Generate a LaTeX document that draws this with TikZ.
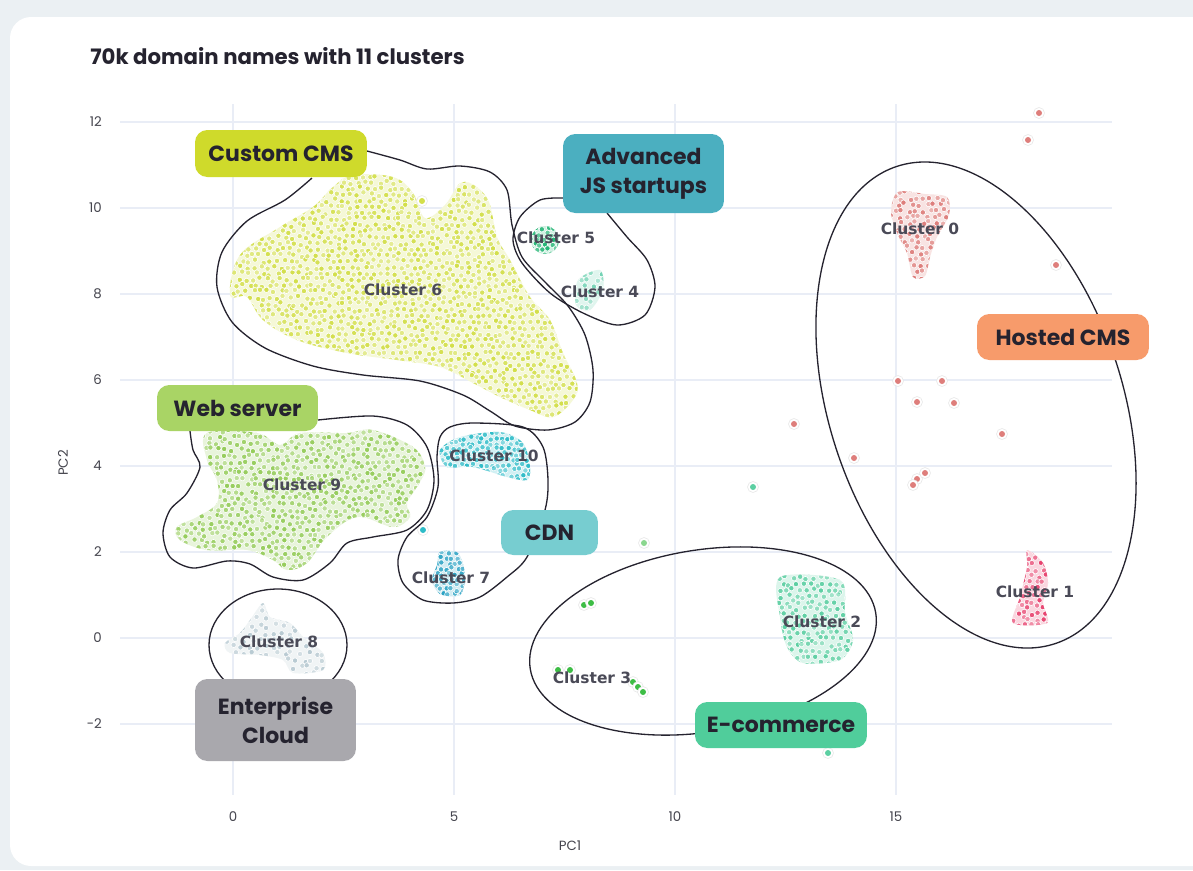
\documentclass[tikz,border=0pt]{standalone}
\usepackage{fontspec}
\newfontfamily\tagfont{Poppins}
\newfontfamily\titlefont{Poppins}
\newfontfamily\clfont{DejaVu Sans}
\newfontfamily\tickfont{Poppins}

\definecolor{bgout}{HTML}{EBF0F3}
\definecolor{gridc}{HTML}{E9EDF6}
\definecolor{ink}{HTML}{25232F}
\definecolor{lblc}{HTML}{4A4A57}
\definecolor{tickc}{HTML}{45454E}
% group colours
\definecolor{cms}{HTML}{CFDA2B}
\definecolor{js}{HTML}{4BAFC0}
\definecolor{hosted}{HTML}{F79B6B}
\definecolor{web}{HTML}{A9D465}
\definecolor{cdn}{HTML}{77CDD0}
\definecolor{ent}{HTML}{A9A8AD}
\definecolor{ecom}{HTML}{50CD9B}
% cluster colours
\definecolor{c0}{HTML}{DE7E7B}
\definecolor{c1}{HTML}{E8436F}
\definecolor{c2}{HTML}{5CCFA2}
\definecolor{c3}{HTML}{3DBD45}
\definecolor{c4}{HTML}{72D3B4}
\definecolor{c5}{HTML}{22B574}
\definecolor{c6}{HTML}{D3DF4A}
\definecolor{c7}{HTML}{2AA2C4}
\definecolor{c8}{HTML}{B9CBD3}
\definecolor{c9}{HTML}{96CD5B}
\definecolor{c10}{HTML}{2DBCC8}

% jittered dots in a box: colour, x0, y0, x1, y1, step
\newcommand{\dotfield}[6]{%
  \pgfmathtruncatemacro{\nx}{(#4-#2)/#6}%
  \pgfmathtruncatemacro{\ny}{(#5-#3)/(0.87*#6)}%
  \foreach \i in {0,...,\nx}{%
    \foreach \j in {0,...,\ny}{%
      \pgfmathsetmacro{\px}{#2+(\i+0.5*mod(\j,2))*#6+0.3*#6*rand}%
      \pgfmathsetmacro{\py}{#3+\j*#6*0.87+0.3*#6*rand}%
      \pgfmathsetmacro{\op}{0.45+0.55*rnd}%
      \filldraw[draw=white,line width=0.35pt,fill=#1,fill opacity=\op] (\px,\py) circle (2.7);
    }}}
% single point with halo
\newcommand{\outpt}[3]{%
  \fill[white] (#2,#3) circle (5.5);
  \draw[gray!20,line width=0.3pt] (#2,#3) circle (5.5);
  \fill[#1] (#2,#3) circle (3);}

\tikzset{
  gridln/.style={draw=gridc,line width=1.2pt},
  hull/.style={draw=ink,line width=0.75pt},
  tag/.style={fill=#1,rounded corners=7pt,inner sep=0pt,align=center,text=ink,
    font=\tagfont\bfseries\fontsize{12.5}{16.5}\selectfont},
  clabel/.style={font=\clfont\bfseries\fontsize{8.8}{10}\selectfont,text=lblc,inner sep=1pt},
  ticklbl/.style={font=\tickfont\fontsize{7.6}{9}\selectfont,text=tickc},
}

% cluster shapes
\def\shapesix{plot[smooth cycle,tension=0.6] coordinates {(333,187) (353,175) (393,177) (413,193) (425,218) (445,205) (463,182) (487,198) (497,237) (510,260) (530,297) (550,320) (563,353) (577,383) (573,400) (553,417) (530,410) (500,397) (473,383) (440,367) (397,360) (347,353) (297,340) (263,320) (247,297) (230,295) (240,255) (280,227) (313,207)}}
\def\shapenine{plot[smooth cycle,tension=0.6] coordinates {(207,433) (257,433) (280,445) (300,433) (347,433) (373,430) (413,447) (425,467) (420,482) (407,503) (410,517) (393,527) (357,517) (327,537) (307,563) (287,570) (273,560) (247,550) (207,550) (180,540) (177,527) (197,517) (217,503) (217,480) (207,460)}}
\def\shapeten{plot[smooth cycle] coordinates {(440,450) (460,437) (500,432) (523,443) (530,467) (527,480) (507,477) (473,467) (447,467)}}
\def\shapezero{plot[smooth cycle] coordinates {(898,192) (925,194) (947,197) (949,215) (937,237) (930,257) (925,276) (913,277) (907,253) (898,235) (891,212)}}
\def\shapeone{plot[smooth cycle] coordinates {(1027,550) (1043,563) (1048,583) (1043,603) (1047,623) (1013,623) (1020,597) (1027,567)}}
\def\shapetwo{plot[smooth cycle] coordinates {(780,577) (840,580) (845,613) (853,640) (840,660) (803,663) (787,647) (780,617)}}
\def\shapeeight{plot[smooth cycle] coordinates {(263,603) (270,617) (290,623) (303,637) (323,653) (323,670) (293,673) (283,660) (260,655) (230,653) (225,643) (240,633) (250,620)}}
\def\shapeseven{plot[smooth cycle] coordinates {(440,552) (458,553) (465,575) (460,595) (440,594) (432,580) (437,565)}}
\def\shapefive{(545,240) circle (14)}
\def\shapefour{plot[smooth cycle] coordinates {(578,280) (600,270) (603,290) (590,310) (576,305)}}

\begin{document}
\begin{tikzpicture}[x=0.02cm,y=-0.02cm]
\pgfmathsetseed{7}
\useasboundingbox (0,0) rectangle (1193,870);
\clip (0,0) rectangle (1193,870);
%card
\fill[bgout] (0,0) rectangle (1193,870);
\fill[white,rounded corners=12pt] (10,17) rectangle (1230,866);

%grid
\foreach \gx in {233,454,675,896} {\draw[gridln] (\gx,104) -- (\gx,795);}
\foreach \gy in {122,208,294,380,466,552,638,724} {\draw[gridln] (120,\gy) -- (1112,\gy);}

%axis labels
\foreach \v/\gy in {12/122,10/208,8/294,6/380,4/466,2/552,0/638,-2/724}
  {\node[ticklbl,anchor=east] (ty\gy) at (108,\gy) {\v};}
\foreach \v/\gx in {0/233,5/454,10/675,15/896}
  {\node[ticklbl] (tx\v) at (\gx,817) {\v};}
\node[ticklbl] (pcone) at (570,846) {PC1};
\node[ticklbl,rotate=90] (pctwo) at (63,463) {PC2};

%clusters
\foreach \shp/\col/\xa/\ya/\xb/\yb/\st in {\shapesix/c6/225/170/585/425/7,\shapenine/c9/170/425/430/575/7,\shapeten/c10/435/428/535/485/6,\shapezero/c0/888/186/952/280/7,\shapeone/c1/1008/546/1052/628/7,\shapetwo/c2/775/572/858/668/7,\shapeeight/c8/220/598/328/678/8,\shapeseven/c7/428/548/468/600/6,\shapefive/c5/528/224/562/256/6,\shapefour/c4/572/266/608/314/8}{%
  \fill[\col!22] \shp;
  \begin{scope}
    \clip \shp;
    \dotfield{\col}{\xa}{\ya}{\xb}{\yb}{\st}
  \end{scope}
}

%outliers
\foreach \x/\y in {1039/113,1028/140,1056/265,898/381,942/381,917/402,954/403,1002/434,794/424,854/458,917/479,925/473,913/485}
  {\outpt{c0}{\x}{\y}}
\foreach \x/\y in {584/605,591/603,558/670,570/670,633/682,638/687,643/692}
  {\outpt{c3}{\x}{\y}}
\outpt{c2}{753}{487}
\outpt{c3!60}{644}{543}
\outpt{c2}{828}{753}
\outpt{c10}{423}{530}
\outpt{c6}{422}{201}

%hulls
\draw[hull] plot[smooth] coordinates {(367,151) (400,160) (427,169) (460,166) (490,172) (507,190) (512,225) (522,257) (545,282) (568,306) (585,335) (593,370) (590,402) (575,422) (548,430) (515,426) (490,411) (463,395) (420,381) (363,375) (313,366) (265,348) (232,322) (217,287) (222,252) (247,221) (285,200) (312,178)};
\draw[hull] plot[smooth] coordinates {(563,198) (540,200) (520,217) (513,240) (522,263) (550,293) (583,313) (617,325) (645,315) (655,287) (647,260) (627,237) (607,213)};
\draw[hull] plot[smooth] coordinates {(318,420) (373,416) (407,425) (427,447) (434,480) (427,510) (407,530) (373,537) (347,543) (330,563) (303,580) (273,577) (250,564) (227,561) (193,568) (170,557) (163,533) (170,510) (187,493) (200,467) (193,450) (190,431)};
\draw[hull] plot[smooth cycle] coordinates {(450,427) (473,423) (523,427) (543,447) (548,480) (545,510) (527,557) (507,577) (480,597) (453,603) (423,600) (403,583) (398,560) (407,537) (427,517) (438,487) (437,457) (440,437)};
\draw[hull,rotate around={-71.6:(976,405)}] (976,405) ellipse [x radius=251.4,y radius=146.5];
\draw[hull,rotate around={9.2:(703,641)}] (703,641) ellipse [x radius=175,y radius=91];
\draw[hull] (278,645) ellipse [x radius=69,y radius=56];

%cluster names
\node[clabel] (l6) at (403,290) {Cluster 6};
\node[clabel] (l5) at (556,238) {Cluster 5};
\node[clabel] (l4) at (600,292) {Cluster 4};
\node[clabel] (l0) at (920,229) {Cluster 0};
\node[clabel] (l9) at (302,485) {Cluster 9};
\node[clabel] (l10) at (494,456) {Cluster 10};
\node[clabel] (l7) at (451,578) {Cluster 7};
\node[clabel] (l8) at (279,642) {Cluster 8};
\node[clabel] (l3) at (592,678) {Cluster 3};
\node[clabel] (l2) at (822,622) {Cluster 2};
\node[clabel] (l1) at (1035,592) {Cluster 1};

%groups
\node[tag=cms,minimum width=3.44cm,minimum height=0.94cm] (gcms) at (281,153.5) {Custom CMS};
\node[tag=js,minimum width=3.22cm,minimum height=1.58cm] (gjs) at (643.5,173.5) {Advanced\\JS startups};
\node[tag=hosted,minimum width=3.44cm,minimum height=0.92cm] (ghost) at (1063,337) {Hosted CMS};
\node[tag=web,minimum width=3.22cm,minimum height=0.92cm] (gweb) at (237.5,408) {Web server};
\node[tag=cdn,minimum width=1.94cm,minimum height=0.9cm] (gcdn) at (549.5,532.5) {CDN};
\node[tag=ent,minimum width=3.22cm,minimum height=1.64cm] (gent) at (275.5,720) {Enterprise\\Cloud};
\node[tag=ecom,minimum width=3.44cm,minimum height=0.92cm] (gecom) at (781,725) {E-commerce};

%title
\node[anchor=west,inner sep=0pt,text=ink,font=\titlefont\bfseries\fontsize{12.1}{14}\selectfont] (title) at (90,56) {70k domain names with 11 clusters};
\end{tikzpicture}
\end{document}
